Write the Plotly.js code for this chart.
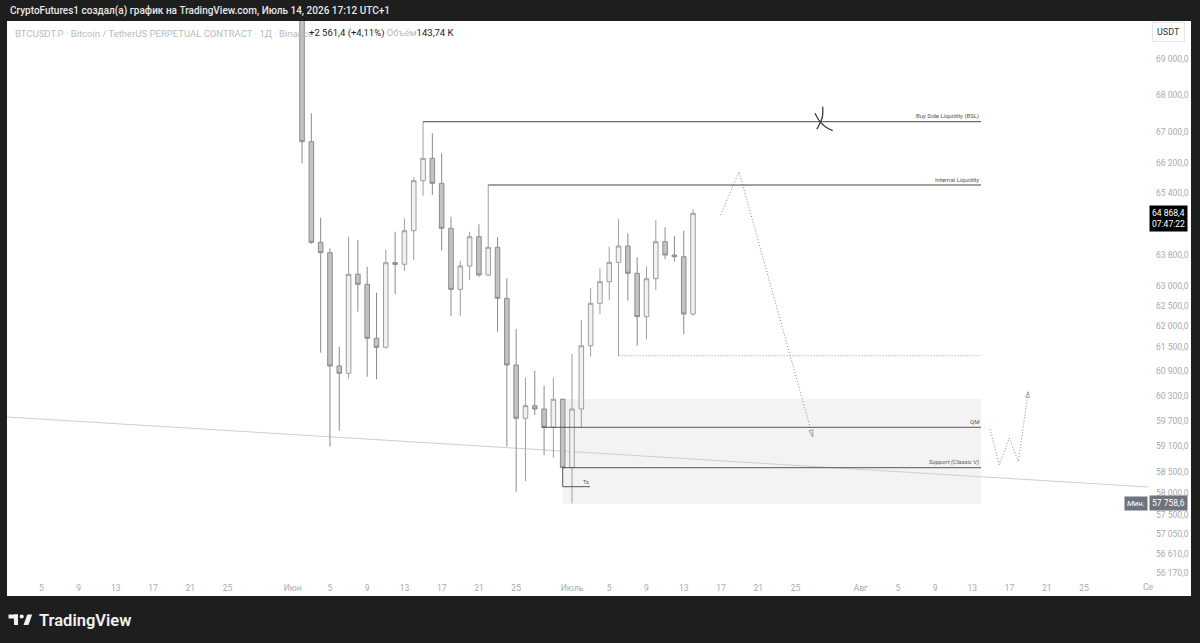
<!DOCTYPE html>
<html><head><meta charset="utf-8">
<script src="https://cdn.plot.ly/plotly-3.0.1.min.js"></script>
<style>html,body{margin:0;padding:0;background:#1e1e1e;overflow:hidden}#chart{width:1200px;height:643px}</style>
</head><body><div id="chart"></div>
<script>
// ---- candle data (BTCUSDT.P, 1D) ----
const dates = ["2026-06-02","2026-06-03","2026-06-04","2026-06-05","2026-06-06","2026-06-07","2026-06-08","2026-06-09","2026-06-10","2026-06-11","2026-06-12","2026-06-13","2026-06-14","2026-06-15","2026-06-16","2026-06-17","2026-06-18","2026-06-19","2026-06-20","2026-06-21","2026-06-22","2026-06-23","2026-06-24","2026-06-25","2026-06-26","2026-06-27","2026-06-28","2026-06-29","2026-06-30","2026-07-01","2026-07-02","2026-07-03","2026-07-04","2026-07-05","2026-07-06","2026-07-07","2026-07-08","2026-07-09","2026-07-10","2026-07-11","2026-07-12","2026-07-13","2026-07-14"];
const openP  = [70600,66754,64120,63854,61024,60845,63305,63052,61704,61481,63599,63558,64418,65720,66312,65652,64480,62925,63515,64264,63287,63992,62699,61048,59760,60062,59982,59545,60216,58590,59982,61520,62574,63117,63608,64025,63330,62239,63193,64135,63795,63752,62307];
const highP  = [71000,67517,64754,63966,61496,64264,64179,63497,62840,63923,64393,64739,65810,67290,66979,66445,64780,63650,64393,64583,65607,64249,63203,61934,60738,60908,60544,60738,60230,61317,62157,62951,63457,64007,64713,64352,63736,63497,64695,64506,64282,64418,64972];
const lowP   = [66179,64076,61349,59085,59464,60723,62364,60762,60699,61450,62807,63389,63668,65327,65345,63905,62257,62257,63160,63244,63260,61867,59085,58030,58279,59839,58889,58825,58582,57758.6,59535,61251,62306,62657,61276,62639,61520,61678,62907,63686,63624,61810,62257];
const closeP = [66754,64120,63854,61024,60845,63305,63052,61704,61481,63599,63558,64418,65720,66312,65652,64480,62925,63515,64264,63287,63992,62699,61048,59760,60062,59982,59545,60216,58590,59982,61520,62574,63117,63608,64025,63330,62239,63193,64135,63795,63752,62307,64868.4];

// ---- axis ticks ----
const yTickVals = [69000,68000,67000,66200,65400,63800,63000,62500,62000,61500,60900,60300,59700,59100,58500,58000,57500,57050,56610,56170];
const yTickText = ["69 000,0","68 000,0","67 000,0","66 200,0","65 400,0","63 800,0","63 000,0","62 500,0","62 000,0","61 500,0","60 900,0","60 300,0","59 700,0","59 100,0","58 500,0","58 000,0","57 500,0","57 050,0","56 610,0","56 170,0"];
const xTickVals = ["2026-05-05","2026-05-09","2026-05-13","2026-05-17","2026-05-21","2026-05-25","2026-06-01","2026-06-05","2026-06-09","2026-06-13","2026-06-17","2026-06-21","2026-06-25","2026-07-01","2026-07-05","2026-07-09","2026-07-13","2026-07-17","2026-07-21","2026-07-25","2026-08-01","2026-08-05","2026-08-09","2026-08-13","2026-08-17","2026-08-21","2026-08-25"];
const xTickText = ["5","9","13","17","21","25","Июн","5","9","13","17","21","25","Июль","5","9","13","17","21","25","Авг","5","9","13","17","21","25"];

// ---- drawings (date, price) ----
const lineEnd = "2026-08-13 22:19";
const bslLevel = 67290, internalLevel = 65607, dottedLevel = 61276, qmLevel = 59545, supportLevel = 58590;
const zoneTop = 60223, zoneBottom = 57745;
const tsBottom = 58146, tsEnd = "2026-07-02 22:20";
const trendX = ["2026-05-01 07:26","2026-08-31 20:53"], trendY = [59791, 58139];
const arrowX = ["2026-07-16 23:17","2026-07-18 22:34","2026-07-26 20:38"], arrowY = [64825, 65957, 59321];
const wX = ["2026-08-14 21:36","2026-08-15 21:36","2026-08-16 23:17","2026-08-17 22:34","2026-08-19 00:14"], wY = [59504, 58653, 59290, 58731, 60399];
const crossAX = ["2026-07-27 02:24","2026-07-27 15:22","2026-07-28 06:43","2026-07-29 00:00"], crossAY = [67517, 67290, 67140, 67049];
const crossBX = ["2026-07-27 22:19","2026-07-27 21:22","2026-07-27 14:10","2026-07-27 06:58"], crossBY = [67695, 67417, 67229, 67086];

// ---- layout geometry ----
const L = 7, R = 1148, T = 21, B = 578;
const px = x => (x - L) / (R - L);
const py = y => (B - y) / (B - T);
const yTop = Math.log10(69000) + (59 - T) / 2499 * Math.LOG10E;
const yBot = Math.log10(69000) - (B - 59) / 2499 * Math.LOG10E;
const lg = v => Math.log10(v);
const FONT = "Roboto, 'Noto Sans', sans-serif";
const tickCol = "#a7aab3";
const DOT = '1px,2px';

const traces = [
  {type:'candlestick', x:dates, open:openP, high:highP, low:lowP, close:closeP,
   increasing:{line:{color:'#9f9f9f', width:1}, fillcolor:'#f1f1f1'},
   decreasing:{line:{color:'#8c8c8c', width:1}, fillcolor:'#c3c3c3'},
   whiskerwidth:0, showlegend:false, hoverinfo:'skip'},
  {type:'scatter', mode:'lines+markers', x:arrowX, y:arrowY, showlegend:false, hoverinfo:'skip',
   line:{color:'#8a8a8a', width:1, dash:DOT},
   marker:{symbol:'arrow-open', angleref:'previous', size:[0,0,7], color:'#8a8a8a', line:{color:'#8a8a8a', width:1}}},
  {type:'scatter', mode:'lines+markers', x:wX, y:wY, showlegend:false, hoverinfo:'skip',
   line:{color:'#8a8a8a', width:1, dash:DOT},
   marker:{symbol:'arrow-open', angleref:'previous', size:[0,0,0,0,6], color:'#8a8a8a', line:{color:'#8a8a8a', width:1}}},
  {type:'scatter', mode:'lines', x:crossAX, y:crossAY, line:{color:'#3a3a3a', width:1.3, shape:'spline'}, showlegend:false, hoverinfo:'skip'},
  {type:'scatter', mode:'lines', x:crossBX, y:crossBY, line:{color:'#3a3a3a', width:1.3, shape:'spline'}, showlegend:false, hoverinfo:'skip'}
];

const shapes = [
  {type:'rect', xref:'paper', yref:'paper', x0:px(7), x1:px(1191), y0:py(596), y1:py(21), fillcolor:'#ffffff', line:{width:0}, layer:'below'},
  {type:'rect', xref:'x', yref:'y', x0:dates[28], x1:lineEnd, y0:zoneBottom, y1:zoneTop, fillcolor:'#f3f3f3', line:{width:0}, layer:'below'},
  {type:'line', xref:'x', yref:'y', x0:trendX[0], x1:trendX[1], y0:trendY[0], y1:trendY[1], line:{color:'#cfcfcf', width:1}, layer:'below'},
  {type:'line', xref:'x', yref:'y', x0:dates[13], x1:lineEnd, y0:bslLevel, y1:bslLevel, line:{color:'#444', width:1}},
  {type:'line', xref:'x', yref:'y', x0:dates[20], x1:lineEnd, y0:internalLevel, y1:internalLevel, line:{color:'#444', width:1}},
  {type:'line', xref:'x', yref:'y', x0:dates[34], x1:lineEnd, y0:dottedLevel, y1:dottedLevel, line:{color:'#9a9a9a', width:1, dash:DOT}},
  {type:'line', xref:'x', yref:'y', x0:"2026-06-27 18:00", x1:lineEnd, y0:qmLevel, y1:qmLevel, line:{color:'#555', width:1}},
  {type:'line', xref:'x', yref:'y', x0:dates[28], x1:lineEnd, y0:supportLevel, y1:supportLevel, line:{color:'#555', width:1}},
  {type:'line', xref:'x', yref:'y', x0:dates[28], x1:dates[28], y0:supportLevel, y1:tsBottom, line:{color:'#555', width:1}},
  {type:'line', xref:'x', yref:'y', x0:dates[28], x1:tsEnd, y0:tsBottom, y1:tsBottom, line:{color:'#555', width:1}},
  {type:'rect', xref:'paper', yref:'paper', x0:px(8.5), x1:px(18), y0:py(618.5), y1:py(614.5), fillcolor:'#f2f2f2', line:{width:0}},
  {type:'rect', xref:'paper', yref:'paper', x0:px(14), x1:px(18), y0:py(625), y1:py(614.5), fillcolor:'#f2f2f2', line:{width:0}},
  {type:'circle', xref:'paper', yref:'paper', x0:px(19.6), x1:px(23.8), y0:py(618.6), y1:py(614.4), fillcolor:'#f2f2f2', line:{width:0}},
  {type:'path', xref:'paper', yref:'paper', path:`M ${px(23.5)} ${py(625)} L ${px(28.4)} ${py(625)} L ${px(32.2)} ${py(614.5)} L ${px(27.3)} ${py(614.5)} Z`, fillcolor:'#f2f2f2', line:{width:0}}
];

const ann = [];
const addA = o => ann.push(Object.assign({showarrow:false, font:{family:FONT, size:6, color:'#555'}}, o));
addA({xref:'x', yref:'y', x:lineEnd, y:lg(bslLevel), xanchor:'right', yanchor:'bottom', text:'Buy Side Liquidity (BSL)'});
addA({xref:'x', yref:'y', x:lineEnd, y:lg(internalLevel), xanchor:'right', yanchor:'bottom', text:'Internal Liquidity'});
addA({xref:'x', yref:'y', x:lineEnd, y:lg(qmLevel), xanchor:'right', yanchor:'bottom', text:'QM'});
addA({xref:'x', yref:'y', x:lineEnd, y:lg(supportLevel), xanchor:'right', yanchor:'bottom', text:'Support (Classic V)', font:{family:FONT, size:6, color:'#555', style:'italic'}});
addA({xref:'x', yref:'y', x:"2026-07-02 12:00", y:lg(58262), xanchor:'center', yanchor:'middle', text:'Ts', font:{family:FONT, size:5.5, color:'#555'}});
addA({xref:'paper', yref:'paper', x:px(8), y:py(11), xanchor:'left', yanchor:'middle', text:'CryptoFutures1 создал(а) график на TradingView.com, Июль 14, 2026 17:12 UTC+1', font:{family:FONT, size:10, color:'#e8e8e8', weight:500}});
addA({xref:'paper', yref:'paper', x:px(13), y:py(33), xanchor:'left', yanchor:'middle', text:'BTCUSDT.P · Bitcoin / TetherUS PERPETUAL CONTRACT · 1Д · Binance', font:{family:FONT, size:9.5, color:'#b8bbc3'}});
addA({xref:'paper', yref:'paper', x:px(307), y:py(33), xanchor:'left', yanchor:'middle', text:'+2 561,4 (+4,11%) <span style="color:#b8bbc3">Объём</span>143,74 K', font:{family:FONT, size:9.5, color:'#222'}});
addA({xref:'paper', yref:'paper', x:px(1169), y:py(32), xanchor:'center', yanchor:'middle', text:'USDT', font:{family:FONT, size:9, color:'#333'}, bgcolor:'#fff', bordercolor:'#e3e5ea', borderwidth:1, borderpad:4});
addA({xref:'paper', yref:'y', x:px(1149), y:lg(64868.4), xanchor:'left', yanchor:'middle', yshift:-5, text:'64 868,4<br>07:47:22', align:'left', font:{family:FONT, size:8.5, color:'#fff'}, bgcolor:'#000', borderpad:2});
addA({xref:'paper', yref:'y', x:px(1148), y:lg(57758.6), xanchor:'right', yanchor:'middle', text:'<i>Мин.</i>', font:{family:FONT, size:8, color:'#fff'}, bgcolor:'#70737d', borderpad:2});
addA({xref:'paper', yref:'y', x:px(1149), y:lg(57758.6), xanchor:'left', yanchor:'middle', text:'57 758,6', font:{family:FONT, size:8.5, color:'#fff'}, bgcolor:'#70737d', borderpad:2});
addA({xref:'paper', yref:'paper', x:px(1141), y:py(587), xanchor:'left', yanchor:'middle', text:'Се', font:{family:FONT, size:8.5, color:tickCol}});
addA({xref:'paper', yref:'paper', x:px(37), y:py(620), xanchor:'left', yanchor:'middle', text:'TradingView', font:{family:FONT, size:16.5, color:'#f2f2f2', weight:600}});

const layout = {
  width:1200, height:643,
  margin:{l:L, r:1200-R, t:T, b:643-B, pad:0},
  paper_bgcolor:'#1e1e1e', plot_bgcolor:'rgba(0,0,0,0)',
  showlegend:false, hovermode:false,
  xaxis:{type:'date', range:[trendX[0], trendX[1]], tickvals:xTickVals, ticktext:xTickText,
    showgrid:false, zeroline:false, showline:false, ticks:'', ticklabelstandoff:3,
    tickfont:{family:FONT, size:8.5, color:tickCol}, rangeslider:{visible:false}, fixedrange:true},
  yaxis:{type:'log', side:'right', range:[yBot, yTop], tickvals:yTickVals, ticktext:yTickText,
    showgrid:false, zeroline:false, showline:false, ticks:'', ticklabelstandoff:7,
    tickfont:{family:FONT, size:8.5, color:tickCol}, fixedrange:true},
  shapes:shapes, annotations:ann
};
Plotly.newPlot('chart', traces, layout, {displayModeBar:false, staticPlot:true});
</script></body></html>
